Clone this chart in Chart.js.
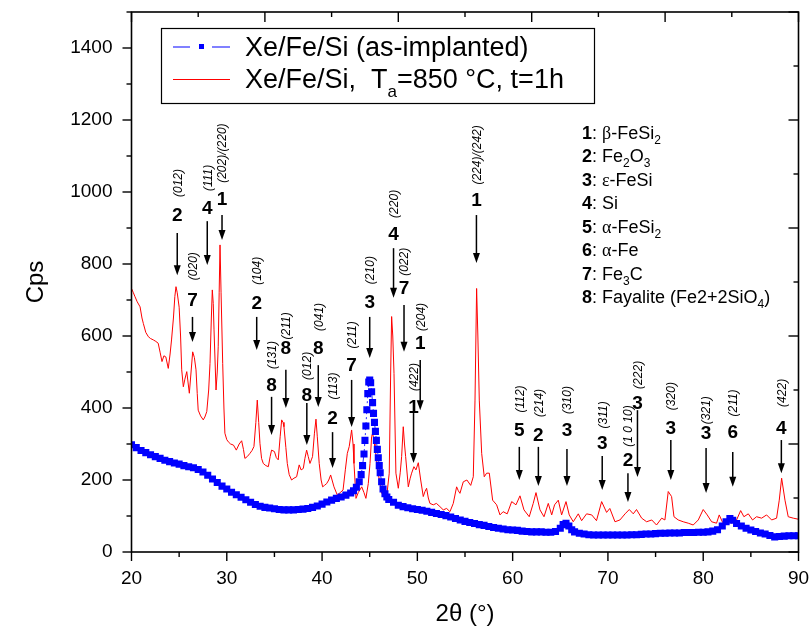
<!DOCTYPE html>
<html><head><meta charset="utf-8">
<script src="https://cdn.jsdelivr.net/npm/chart.js@4/dist/chart.umd.min.js"></script>
<style>html,body{margin:0;padding:0;background:#fff}canvas{display:block}</style>
</head><body>
<canvas id="c" width="811" height="637"></canvas>
<script>
// ---------- data ----------
const asImplantedX = [20,20.5,21,21.5,22,22.5,23,23.5,24,24.5,25,25.5,26,26.5,27,27.5,28,28.5,29,29.5,30,30.5,31,31.5,32,32.5,33,33.5,34,34.5,35,35.5,36,36.5,37,37.5,38,38.5,39,39.5,40,40.5,41,41.5,42,42.5,43,43.3,43.6,43.9,44.1,44.25,44.4,44.5,44.6,44.7,44.8,44.9,45.0,45.1,45.2,45.3,45.4,45.5,45.6,45.7,45.8,45.9,46.0,46.1,46.25,46.4,46.6,46.8,47,47.5,48,48.5,49,49.5,50,50.5,51,51.5,52,52.5,53,53.5,54,54.5,55,55.5,56,56.5,57,57.5,58,58.5,59,59.5,60,60.5,61,61.5,62,62.5,63,63.5,64,64.5,65,65.3,65.6,65.9,66.2,66.5,67,67.5,68,68.5,69,69.5,70,70.5,71,71.5,72,72.5,73,73.5,74,74.5,75,75.5,76,76.5,77,77.5,78,78.5,79,79.5,80,80.5,81,81.5,82,82.4,82.8,83.1,83.5,84,84.5,85,85.5,86,86.5,87,87.5,88,88.5,89,89.5,90];
const asImplantedY = [298,290,282,276,270,265,260,255,251,247,244,240,237,234,229,222,213,203,193,183,175,166,159,152,145,138,132,127,124,122,120,118,117,117,117,118,119,121,124,128,133,139,144,149,153,158,164,170,180,195,215,240,272,310,350,395,440,472,478,470,445,415,385,360,335,310,285,262,240,220,195,175,162,153,146,138,130,126,123,120,118,116,113,110,107,104,101,97,93,89,85,82,79,76,74,71,68,66,64,62,61,60,58,57,56,56,56,55,55,57,66,76,80,72,62,56,52,50,48,47,47,47,47,47,47,47,47,48,48,49,50,50,51,52,52,53,53,53,54,54,54,55,55,56,58,62,72,84,93,88,79,72,66,61,57,53,50,46,42,43,44,45,45,45];

const annealedX = [20.0,20.2,20.37,20.6,20.9,21.1,21.24,21.5,21.77,22.0,22.3,22.55,22.8,23.0,23.2,23.4,23.6,23.86,24.05,24.2,24.4,24.55,24.67,24.8,25.0,25.15,25.27,25.44,25.6,25.8,26.07,26.25,26.42,26.6,26.77,26.9,27.0,27.25,27.53,27.7,27.9,28.1,28.24,28.38,28.48,28.58,28.66,28.87,29.0,29.1,29.2,29.29,29.4,29.57,29.7,29.8,30.0,30.16,30.4,30.7,31.0,31.3,31.56,31.75,31.9,32.15,32.43,32.65,32.85,33.05,33.2,33.35,33.48,33.65,33.83,34.1,34.36,34.55,34.7,35.0,35.2,35.4,35.6,35.76,35.9,36.0,36.2,36.35,36.55,36.8,37.05,37.33,37.6,37.8,38.03,38.2,38.38,38.55,38.73,38.9,39.0,39.2,39.36,39.5,39.7,39.9,40.06,40.25,40.48,40.7,40.9,41.05,41.25,41.6,41.9,42.2,42.45,42.65,42.85,43.1,43.25,43.35,43.56,43.8,44.16,44.4,44.6,44.85,45.03,45.2,45.3,45.45,45.55,45.9,46.25,46.5,46.78,47.05,47.2,47.3,47.42,47.55,47.75,48.0,48.2,48.35,48.52,48.65,48.77,49.05,49.25,49.4,49.64,49.85,50.1,50.35,50.62,50.8,50.97,51.15,51.32,51.67,52.0,52.37,52.72,53.07,53.42,53.77,54.12,54.3,54.47,54.82,55.2,55.6,55.87,56.05,56.22,56.35,56.5,56.75,57.02,57.27,57.55,57.9,58.32,58.67,59.0,59.43,59.9,60.35,60.77,61.19,61.74,62.16,62.45,62.87,63.29,63.74,64.1,64.4,64.79,65.14,65.6,65.94,66.36,66.89,67.24,67.76,68.3,68.8,69.34,69.86,70.2,70.74,71.26,71.8,72.24,72.66,73.0,73.54,74.06,74.6,75.1,75.64,75.98,76.33,76.68,76.93,77.38,77.9,78.43,78.95,79.48,80.0,80.42,80.88,81.4,81.68,82.04,82.46,82.98,83.5,83.93,84.27,84.73,85.18,85.6,86.13,86.65,87.18,87.7,87.98,88.23,88.58,88.92,89.45,90.0];
const annealedY = [732,720,709,695,681,650,635,610,598,593,589,585,580,555,529,545,542,510,550,589,650,710,737,720,680,600,506,459,480,501,441,500,556,540,506,440,394,378,367,375,390,450,524,650,728,690,617,450,500,570,720,853,720,524,400,330,312,306,300,297,283,300,309,285,260,265,274,282,293,360,422,360,302,260,246,240,237,265,283,279,262,256,320,367,360,348,290,246,215,200,205,209,242,228,232,260,283,265,246,258,265,330,369,320,246,200,181,185,190,200,214,200,181,158,165,172,230,274,293,339,300,246,149,165,181,165,149,190,246,320,330,310,291,217,163,158,154,219,500,654,600,496,219,177,220,265,348,300,265,181,205,219,237,228,248,200,154,168,177,150,135,131,135,126,117,121,112,135,181,170,163,195,200,185,209,422,732,600,422,274,209,219,219,144,131,103,112,106,140,131,156,117,98,135,165,117,98,135,103,131,144,103,140,103,84,106,87,106,103,87,140,110,121,84,89,106,118,106,118,94,84,89,75,94,89,168,154,98,89,84,80,75,89,118,103,84,80,103,82,89,80,89,115,98,106,89,98,94,103,89,94,144,205,144,98,94,91];

const xTickValues = [20,30,40,50,60,70,80,90];
const yTickValues = [0,200,400,600,800,1000,1200,1400];
const seriesLabels = ['Xe/Fe/Si (as-implanted)', 'Xe/Fe/Si,  T_a=850 °C, t=1h'];
const phaseNumbers = ['1','2','3','4','5','6','7','8'];
const phaseNames = ['β-FeSi_2','Fe_2O_3','ε-FeSi','Si','α-FeSi_2','α-Fe','Fe_3C','Fayalite (Fe2+2SiO_4)'];

// peak annotations
const peakX = [24.8,27.95,29.5,26.4,33.14,34.7,36.2,38.4,39.6,41.1,43.1,45.0,47.5,48.6,50.3,49.6,56.2,60.7,62.7,65.7,69.4,72.1,73.1,76.6,80.3,83.1,88.2];
const peakPhase = ['2','4','1','7','2','8','8','8','8','2','7','3','4','7','1','1','1','5','2','3','3','2','3','3','3','6','4'];
const peakHkl = ['(012)','(111)','(202)/(220)','(020)','(104)','(131)','(211)','(012)','(041)','(113)','(211)','(210)','(220)','(022)','(204)','(422)','(224)/(242)','(112)','(214)','(310)','(311)','(1 0 10)','(222)','(320)','(321)','(211)','(422)'];
// layout of each annotation in Cps: [number centre, hkl centre, arrow top, arrow tip]
const peakLayout = [[936,1025,886,769],[956,1039,919,797],[981,1108,936,867],[700,794,653,583],[692,781,653,561],[464,547,431,325],[567,628,506,400],[436,517,414,297],[567,653,519,403],[372,461,333,233],[519,603,478,347],[694,783,653,539],[883,967,844,706],[733,806,686,556],[581,653,533,394],[403,486,386,247],[978,1103,936,803],[339,425,292,200],[325,414,292,183],[339,422,286,183],[303,381,267,172],[256,350,219,139],[414,492,394,208],[344,433,311,200],[331,394,289,164],[333,414,278,181],[344,442,311,219]];

// ---------- helpers ----------
const SANS = '"Liberation Sans", Arial, Helvetica, sans-serif';
const SERIF = '"Liberation Serif", "Times New Roman", serif';
function plain(s){ return s.replace(/_/g,''); }
function segs(str){
  const out=[];
  for(let i=0;i<str.length;i++){
    const ch=str[i];
    if(ch==='_'){ out.push({t:str[i+1],sub:true}); i++; continue; }
    const g=/[α-ω]/.test(ch);
    const last=out[out.length-1];
    if(last && !last.sub && last.g===g) last.t+=ch; else out.push({t:ch,g:g});
  }
  return out;
}
function drawRich(ctx,str,x,y,size,subSize,subDy){
  let cx=x;
  ctx.textAlign='left'; ctx.textBaseline='alphabetic'; ctx.fillStyle='#000';
  for(const s of segs(str)){
    if(s.sub){ ctx.font=subSize+'px '+SANS; ctx.fillText(s.t,cx,y+subDy); cx+=ctx.measureText(s.t).width; }
    else { ctx.font=size+'px '+(s.g?SERIF:SANS); ctx.fillText(s.t,cx,y); cx+=ctx.measureText(s.t).width; }
  }
}
function seg(ctx,x1,y1,x2,y2){ ctx.beginPath(); ctx.moveTo(x1,y1); ctx.lineTo(x2,y2); ctx.stroke(); }
function noPad(s){ s.paddingTop=0; s.paddingBottom=0; s.paddingLeft=0; s.paddingRight=0; }

const decor = {
  id:'decor',
  afterDraw(chart){
    const {ctx, chartArea:a, scales:{x,y}} = chart;
    ctx.save();
    ctx.strokeStyle='#000'; ctx.fillStyle='#000';
    ctx.lineWidth=1.6;
    ctx.strokeRect(a.left,a.top,a.right-a.left,a.bottom-a.top);
    ctx.lineWidth=1.4;
    for(let v=0; v<=1500; v+=100){ const py=y.getPixelForValue(v); seg(ctx,a.left-(v%200===0?9:5),py,a.left,py); }
    for(let v=20; v<=90; v+=5){ const px=x.getPixelForValue(v); seg(ctx,px,a.bottom,px,a.bottom+(v%10===0?9:5)); }
    const w=a.right-a.left, h=a.bottom-a.top;
    for(let i=0;i<=10;i++){
      const px=a.left+i*w/10, L=i%2===0?10:5; seg(ctx,px,a.top,px,a.top+L);
      const py=a.bottom-i*h/10; seg(ctx,a.right-L,py,a.right,py);
    }
    for(let i=0;i<peakX.length;i++){
      const px=x.getPixelForValue(peakX[i]);
      const [nY,hY,aT,aB]=peakLayout[i];
      ctx.font='bold 19px '+SANS; ctx.textAlign='center'; ctx.textBaseline='middle';
      ctx.fillText(peakPhase[i],px,y.getPixelForValue(nY)+1);
      ctx.save();
      ctx.translate(px+1,y.getPixelForValue(hY)); ctx.rotate(-Math.PI/2);
      ctx.font='italic 12px '+SANS; ctx.textAlign='center'; ctx.textBaseline='middle';
      ctx.fillText(peakHkl[i],0,0);
      ctx.restore();
      const t=y.getPixelForValue(aT), b=y.getPixelForValue(aB);
      ctx.lineWidth=1.5; seg(ctx,px,t,px,b-9);
      ctx.beginPath(); ctx.moveTo(px-3.5,b-10); ctx.lineTo(px+3.5,b-10); ctx.lineTo(px,b); ctx.closePath(); ctx.fill();
    }
    ctx.lineWidth=1.2; ctx.strokeRect(161.5,28.5,433,75);
    const ds=chart.data.datasets;
    ctx.strokeStyle=ds[0].borderColor; ctx.lineWidth=1.2;
    seg(ctx,173,47,190,47); seg(ctx,212,47,230,47);
    ctx.fillStyle=ds[0].pointBackgroundColor; ctx.fillRect(199,44,5,5);
    ctx.strokeStyle=ds[1].borderColor; ctx.lineWidth=1.2; seg(ctx,173,79.5,230,79.5);
    drawRich(ctx,seriesLabels[0],245,56,27,17,9);
    drawRich(ctx,seriesLabels[1],245,88,27,17,9);
    for(let i=0;i<phaseNames.length;i++){
      const by=138.5+23.5*i;
      ctx.font='bold 18px '+SANS; ctx.textAlign='left'; ctx.textBaseline='alphabetic'; ctx.fillStyle='#000';
      ctx.fillText(phaseNumbers[i],582,by);
      const nw=ctx.measureText(phaseNumbers[i]).width;
      drawRich(ctx,': '+phaseNames[i],582+nw,by,18,12,5);
    }
    ctx.restore();
  }
};

new Chart(document.getElementById('c'), {
  type:'line',
  data:{ datasets:[
    { label:plain(seriesLabels[0]), data:asImplantedX.map((v,i)=>({x:v,y:asImplantedY[i]})),
      borderColor:'#2b2bff', borderWidth:1, borderDash:[8,3,2,3], pointStyle:'rect', pointRadius:5,
      pointBackgroundColor:'#0000ff', pointBorderWidth:0, pointBorderColor:'#0000ff', tension:0 },
    { label:plain(seriesLabels[1]), data:annealedX.map((v,i)=>({x:v,y:annealedY[i]})),
      borderColor:'#ff0000', borderWidth:1, pointRadius:0, tension:0 }
  ]},
  options:{
    responsive:false, animation:false, events:[], devicePixelRatio:1,
    layout:{ padding:{ top:12, right:12.5, left:0, bottom:0 } },
    plugins:{ legend:{display:false}, tooltip:{enabled:false} },
    scales:{
      x:{ type:'linear', min:20, max:90,
          afterBuildTicks(s){ s.ticks = xTickValues.map(v=>({value:v})); },
          ticks:{ font:{size:19,family:SANS}, color:'#000', padding:15, maxRotation:0, autoSkip:false, callback:v=>String(v) },
          grid:{ display:false, drawTicks:false }, border:{display:false},
          title:{ display:true, text:'2θ (°)', color:'#000', font:{size:24,family:SANS}, padding:{top:0,bottom:8} },
          afterFit(s){ s.height=85; noPad(s); } },
      y:{ min:0, max:1500,
          afterBuildTicks(s){ s.ticks = yTickValues.map(v=>({value:v})); },
          ticks:{ font:{size:19,family:SANS}, color:'#000', padding:19, autoSkip:false, callback:v=>String(v) },
          grid:{ display:false, drawTicks:false }, border:{display:false},
          title:{ display:true, text:'Cps', color:'#000', font:{size:24,family:SANS}, padding:{top:22,bottom:0} },
          afterFit(s){ s.width=131.5; noPad(s); } }
    }
  },
  plugins:[decor]
});
</script>
</body></html>
